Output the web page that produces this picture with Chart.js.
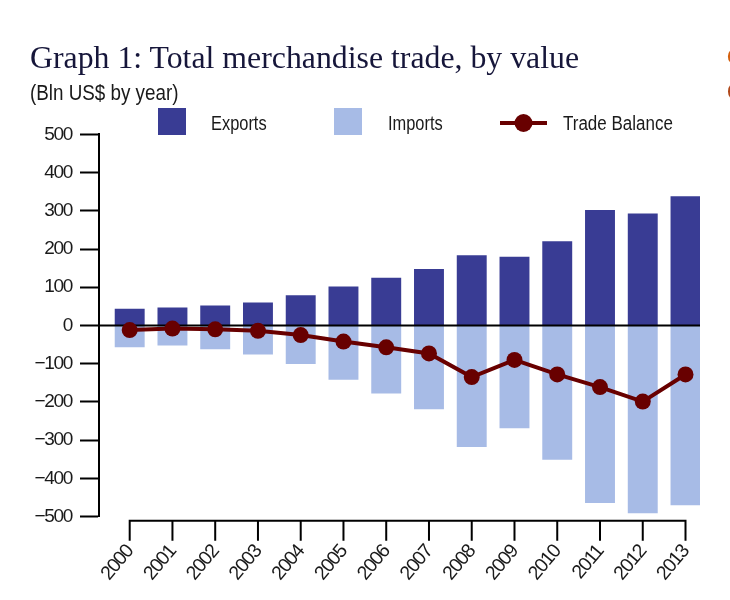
<!DOCTYPE html>
<html><head><meta charset="utf-8">
<script src="https://cdn.jsdelivr.net/npm/chart.js@4.4.1/dist/chart.umd.min.js"></script>
<style>
html,body{margin:0;padding:0;background:#fff;overflow:hidden;}
body{width:730px;height:600px;position:relative;}
#c{position:absolute;left:0;top:0;}
.t{position:absolute;white-space:nowrap;line-height:1;}
.nar{font-family:"Liberation Sans",Arial,sans-serif;transform:scaleX(0.82);transform-origin:0 0;}
#title{left:30px;top:41.6px;font-family:"Liberation Serif","Times New Roman",serif;font-size:31.8px;color:#16163a;}
#sub{left:30px;top:81.5px;font-size:22px;color:#1a1a1a;transform:scaleX(0.855);}
.sw{position:absolute;width:28px;height:27px;top:107.5px;}
.lt{top:113px;font-size:20px;color:#1a1a1a;}
#frag1{left:727px;top:46px;font-family:"Liberation Sans",sans-serif;font-weight:bold;font-size:22px;color:#d4600e;}
#frag2{left:727px;top:80px;font-family:"Liberation Sans",sans-serif;font-weight:bold;font-size:24px;color:#b0481a;}
</style></head>
<body>
<canvas id="c" width="730" height="600"></canvas>
<div class="t" id="title">Graph 1: Total merchandise trade, by value</div>
<div class="t nar" id="sub">(Bln US$ by year)</div>
<div class="sw" style="left:157.5px;background:#393c94;"></div>
<div class="t nar lt" style="left:211px;">Exports</div>
<div class="sw" style="left:333.5px;background:#a7bbe6;"></div>
<div class="t nar lt" style="left:388px;">Imports</div>
<svg style="position:absolute;left:498px;top:111px;" width="52" height="24"><line x1="2" y1="12" x2="49" y2="12" stroke="#680000" stroke-width="4"/><circle cx="25.5" cy="12" r="9" fill="#680000"/></svg>
<div class="t nar lt" style="left:563px;transform:scaleX(0.85);">Trade Balance</div>
<div class="t" id="frag1">C</div>
<div class="t" id="frag2">C</div>
<script>
const years = ['2000','2001','2002','2003','2004','2005','2006','2007','2008','2009','2010','2011','2012','2013'];
const exportsVals = [44, 47, 52, 60, 79, 102, 125, 148, 184, 180, 220, 302, 293, 338];
const importsVals = [-57, -52, -62, -76, -101, -142, -178, -219, -318, -269, -351, -464, -491, -470];
const balanceVals = [-12, -8, -10, -14, -25, -42, -57, -73, -135, -90, -128, -161, -199, -128];
const yTicks = [500, 400, 300, 200, 100, 0, -100, -200, -300, -400, -500];

const TICKFONT = '"Liberation Sans",Arial,sans-serif';
const pts = arr => arr.map((v, i) => ({x: i, y: v}));

const narrowText = {
  id: 'narrowText',
  beforeUpdate(chart) { chart.ctx.letterSpacing = '-1.3px'; },
  beforeLayout(chart) { chart.ctx.letterSpacing = '-1.3px'; },
  beforeDraw(chart) { chart.ctx.letterSpacing = '-1.3px'; }
};

const axisPlugin = {
  id: 'axisPlugin',
  beforeDatasetDraw(chart, args) {
    if (args.index !== 2) return;
    const ctx = chart.ctx, ca = chart.chartArea;
    const y0 = chart.scales.y.getPixelForValue(0);
    ctx.save();
    ctx.strokeStyle = '#000';
    ctx.lineWidth = 2;
    ctx.beginPath();
    ctx.moveTo(ca.left, y0);
    ctx.lineTo(ca.right, y0);
    ctx.stroke();
    ctx.restore();
  },
  afterDraw(chart) {
    const ctx = chart.ctx, ca = chart.chartArea, xs = chart.scales.x;
    const yl = ca.bottom + 4;
    const x0 = xs.getPixelForValue(0), x1 = xs.getPixelForValue(years.length - 1);
    ctx.save();
    ctx.strokeStyle = '#000';
    ctx.lineWidth = 2;
    ctx.lineCap = 'square';
    ctx.beginPath();
    ctx.moveTo(x0, yl);
    ctx.lineTo(x1, yl);
    years.forEach((_, i) => {
      const px = xs.getPixelForValue(i);
      ctx.moveTo(px, yl);
      ctx.lineTo(px, yl + 19);
    });
    ctx.stroke();
    ctx.restore();
  }
};

new Chart(document.getElementById('c'), {
  type: 'bar',
  data: {
    datasets: [
      {label: 'Exports', data: pts(exportsVals), backgroundColor: '#393c94', order: 1,
       barPercentage: 0.7, categoryPercentage: 1},
      {label: 'Imports', data: pts(importsVals), backgroundColor: '#a7bbe6', order: 2,
       barPercentage: 0.7, categoryPercentage: 1},
      {type: 'line', label: 'Trade Balance', data: pts(balanceVals), borderColor: '#680000',
       backgroundColor: '#680000', borderWidth: 4, pointRadius: 8, pointHoverRadius: 8,
       pointBorderWidth: 0, order: 0, tension: 0}
    ]
  },
  options: {
    responsive: false,
    animation: false,
    events: [],
    layout: {padding: {top: 134.3, right: 30, left: 0, bottom: 0}},
    plugins: {legend: {display: false}, title: {display: false}, tooltip: {enabled: false}},
    scales: {
      x: {
        type: 'linear', stacked: true, offset: false,
        min: -0.711, max: 13.339,
        afterBuildTicks: s => { s.ticks = years.map((_, i) => ({value: i})); },
        afterFit: s => { s.height = 83.3; s.paddingLeft = 0; s.paddingRight = 0; },
        border: {display: false},
        grid: {display: true, offset: false, drawOnChartArea: false, drawTicks: true, tickLength: 24, color: 'rgba(0,0,0,0)'},
        ticks: {
          autoSkip: false, minRotation: 50, maxRotation: 50, padding: 0,
          color: '#1a1a1a', font: {family: TICKFONT, size: 19.5},
          callback: v => years[v]
        }
      },
      y: {
        min: -500, max: 500,
        afterBuildTicks: s => { s.ticks = yTicks.map(v => ({value: v})); },
        afterFit: s => { s.width = 99.3; },
        border: {display: true, color: '#000', width: 2},
        grid: {drawOnChartArea: false, drawTicks: true, tickLength: 19.3, tickColor: '#000', tickWidth: 2},
        ticks: {
          padding: 8, color: '#1a1a1a', font: {family: TICKFONT, size: 19},
          callback: v => v < 0 ? '\u2212' + Math.abs(v) : String(v)
        }
      }
    }
  },
  plugins: [narrowText, axisPlugin]
});
</script>
</body></html>
